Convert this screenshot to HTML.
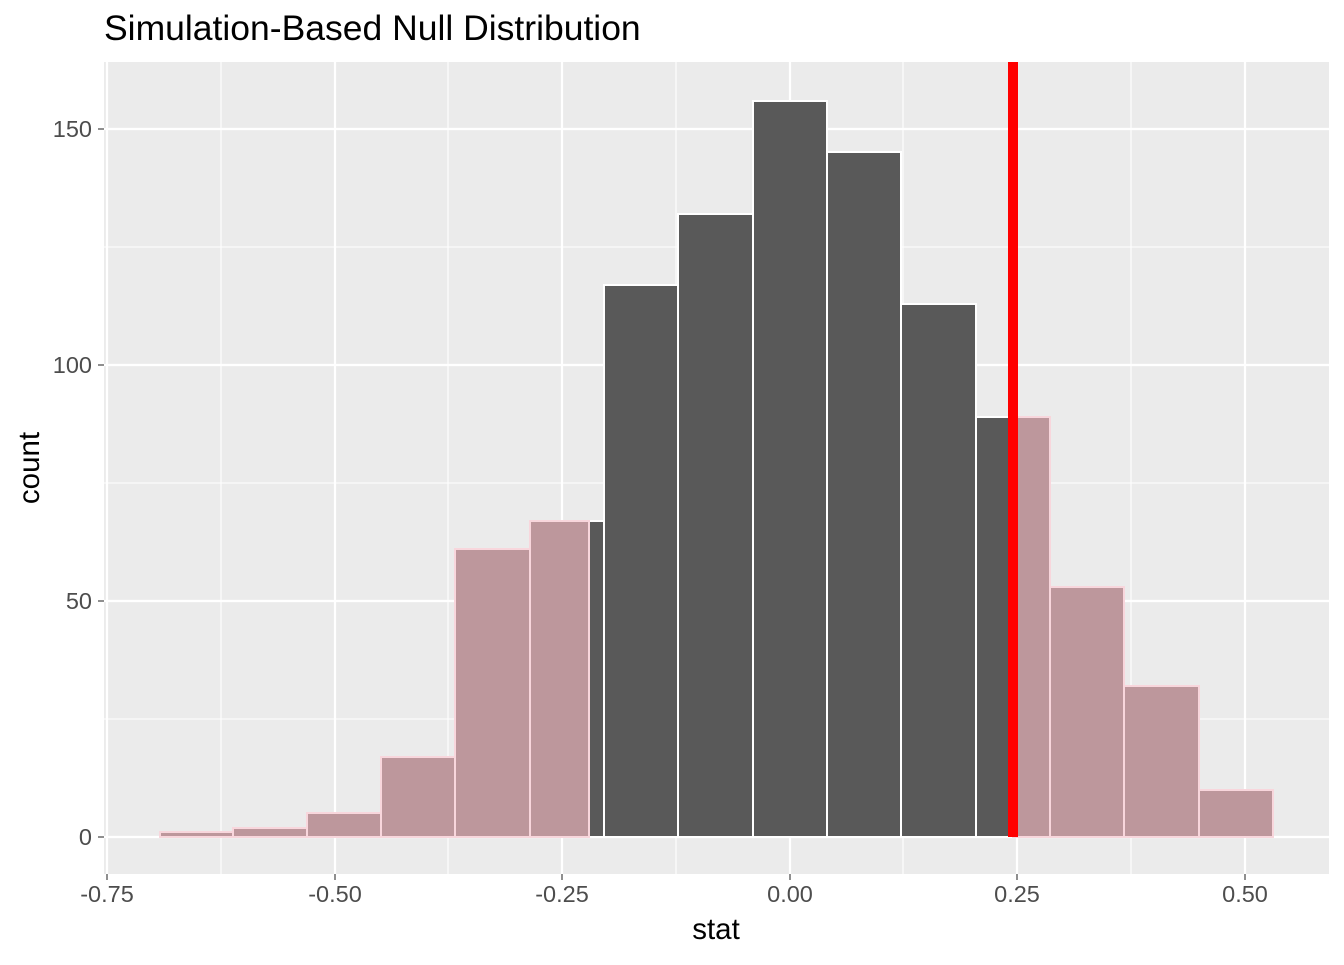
<!DOCTYPE html>
<html><head><meta charset="utf-8"><style>body{margin:0;background:#fff}</style></head><body>
<svg width="1344" height="960" xmlns="http://www.w3.org/2000/svg" font-family="Liberation Sans, sans-serif">
<rect x="0" y="0" width="1344" height="960" fill="#fff"/>
<rect x="104" y="62" width="1225" height="812" fill="#EBEBEB"/>
<g stroke="#fff" stroke-width="1.1">
<line x1="104" x2="1329" y1="247" y2="247"/><line x1="104" x2="1329" y1="483" y2="483"/><line x1="104" x2="1329" y1="719" y2="719"/>
<line x1="221" x2="221" y1="62" y2="874"/><line x1="448" x2="448" y1="62" y2="874"/><line x1="676" x2="676" y1="62" y2="874"/><line x1="903" x2="903" y1="62" y2="874"/><line x1="1131" x2="1131" y1="62" y2="874"/>
</g>
<g stroke="#fff" stroke-width="2.2">
<line x1="104" x2="1329" y1="129" y2="129"/><line x1="104" x2="1329" y1="365" y2="365"/><line x1="104" x2="1329" y1="601" y2="601"/><line x1="104" x2="1329" y1="837" y2="837"/>
<line x1="107" x2="107" y1="62" y2="874"/><line x1="335" x2="335" y1="62" y2="874"/><line x1="562" x2="562" y1="62" y2="874"/><line x1="790" x2="790" y1="62" y2="874"/><line x1="1017" x2="1017" y1="62" y2="874"/><line x1="1245" x2="1245" y1="62" y2="874"/>
</g>
<g fill="#595959" stroke="#fff" stroke-width="2">
<rect x="530" y="521" width="74" height="316"/>
<rect x="604" y="285" width="74" height="552"/>
<rect x="678" y="214" width="75" height="623"/>
<rect x="753" y="101" width="74" height="736"/>
<rect x="827" y="152" width="74" height="685"/>
<rect x="901" y="304" width="75" height="533"/>
<rect x="976" y="417" width="74" height="420"/>
</g>
<g fill="#BD979C" stroke="#F8D6DC" stroke-width="2">
<rect x="160" y="832" width="73" height="5"/>
<rect x="233" y="828" width="74" height="9"/>
<rect x="307" y="813" width="74" height="24"/>
<rect x="381" y="757" width="74" height="80"/>
<rect x="455" y="549" width="75" height="288"/>
<rect x="530" y="521" width="59" height="316"/>
<rect x="1013" y="417" width="37" height="420"/>
<rect x="1050" y="587" width="74" height="250"/>
<rect x="1124" y="686" width="75" height="151"/>
<rect x="1199" y="790" width="74" height="47"/>
</g>
<rect x="1008" y="62" width="10" height="775" fill="#FF0000"/>
<g stroke="#333" stroke-width="1.1">
<line x1="98" x2="104" y1="129" y2="129"/><line x1="98" x2="104" y1="365" y2="365"/><line x1="98" x2="104" y1="601" y2="601"/><line x1="98" x2="104" y1="837" y2="837"/>
<line x1="107" x2="107" y1="874" y2="880"/><line x1="335" x2="335" y1="874" y2="880"/><line x1="562" x2="562" y1="874" y2="880"/><line x1="790" x2="790" y1="874" y2="880"/><line x1="1017" x2="1017" y1="874" y2="880"/><line x1="1245" x2="1245" y1="874" y2="880"/>
</g>
<g fill="#4D4D4D" font-size="23.5" text-anchor="end">
<text x="92" y="137">150</text><text x="92" y="373">100</text><text x="92" y="609">50</text><text x="92" y="845">0</text>
</g>
<g fill="#4D4D4D" font-size="23.5" text-anchor="middle">
<text x="107" y="902">-0.75</text><text x="335" y="902">-0.50</text><text x="562" y="902">-0.25</text><text x="790" y="902">0.00</text><text x="1017" y="902">0.25</text><text x="1245" y="902">0.50</text>
</g>
<text x="716" y="939" font-size="29.5" text-anchor="middle" fill="#000">stat</text>
<text transform="translate(39,468) rotate(-90)" font-size="29.5" text-anchor="middle" fill="#000">count</text>
<text x="104" y="40" font-size="35.5" fill="#000">Simulation-Based Null Distribution</text>
</svg>
</body></html>
